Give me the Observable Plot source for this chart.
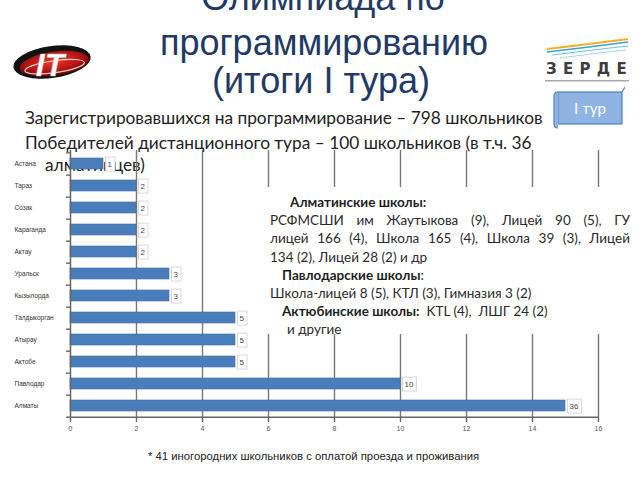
<!DOCTYPE html>
<html><head><meta charset="utf-8">
<script src="https://cdn.jsdelivr.net/npm/d3@7"></script>
<script src="https://cdn.jsdelivr.net/npm/@observablehq/plot@0.6"></script>
<style>
html,body{margin:0;padding:0;background:#fff;}
#page{position:relative;width:640px;height:480px;overflow:hidden;}
#under{position:absolute;left:0;top:0;z-index:0;}
#chart{position:absolute;left:0;top:0;z-index:1;}
#note{position:absolute;left:262px;top:187px;width:373px;height:147px;background:#fff;z-index:2;
  font-family:Lato,"Open Sans",sans-serif;font-size:13.5px;color:#2a2a2a;line-height:18.2px;}
#note div{white-space:nowrap;}
#note .j{width:360px;text-align:justify;text-align-last:justify;white-space:normal;}
#note b{font-weight:700;color:#1e1e1e;}
</style></head>
<body>
<div id="page">
<svg id="under" width="640" height="480">
  <defs>
    <radialGradient id="redgrad" cx="50%" cy="40%" r="60%">
      <stop offset="0" stop-color="#f03a2a"/><stop offset="0.7" stop-color="#b01010"/><stop offset="1" stop-color="#5a0505"/>
    </radialGradient>
  </defs>
  <g transform="rotate(-8 52 62)">
    <ellipse cx="52" cy="62" rx="39" ry="16" fill="#111"/>
    <ellipse cx="54" cy="64" rx="35" ry="12" fill="url(#redgrad)"/>
    <ellipse cx="54" cy="67" rx="30" ry="6" fill="none" stroke="#fff" stroke-width="1.2" opacity="0.8"/>
  </g>
  <text x="50" y="76" text-anchor="middle" font-family="Liberation Sans" font-weight="700" font-style="italic" font-size="32" fill="#fff" stroke="#bbb" stroke-width="0.5">IT</text>
  <path d="M547 49 Q590 44 628 39" stroke="#f0b020" stroke-width="2" fill="none"/>
  <path d="M547 52 Q590 47 628 42" stroke="#3aa0d8" stroke-width="1.5" fill="none"/>
  <path d="M552 55 Q592 50 628 46" stroke="#6cc0e8" stroke-width="1.2" fill="none"/>
  <path d="M560 58 Q596 53 626 50" stroke="#9dd4ef" stroke-width="1" fill="none"/>
  <text x="546" y="74" font-family="DejaVu Sans" font-weight="700" font-size="15" letter-spacing="6.3" fill="#3d3d3d">ЗЕРДЕ</text>
  <rect x="545" y="80" width="84" height="1.5" fill="#a8a8a8"/>
  <rect x="558" y="92" width="64" height="32" fill="#8fb4e3" stroke="#4f81bd" stroke-width="1.2"/>
  <path d="M558 92 q-4 0 -4 4 v28 q0 4 4 4" fill="#8fb4e3" stroke="#4f81bd" stroke-width="1.2"/>
  <path d="M622 92 q4 -6 2 -4" fill="none" stroke="#4f81bd" stroke-width="1.2"/>
  <text x="590" y="114" text-anchor="middle" font-family="Lato" font-size="15" fill="#fff">I тур</text>
  <g font-family="Liberation Sans" font-size="36" fill="#1f3a66" text-anchor="middle">
    <text x="323" y="10">Олимпиада по</text>
    <text x="324" y="55">программированию</text>
    <text x="321" y="93">(итоги I тура)</text>
  </g>
  <g font-family="Lato" font-size="17.3" fill="#222">
    <text x="25" y="124">Зарегистрировавшихся на программирование – 798 школьников</text>
    <text x="25" y="149">Победителей дистанционного тура – 100 школьников (в т.ч. 36</text>
    <text x="45" y="171">алматинцев)</text>
  </g>
  <text x="148" y="460" font-family="Liberation Sans" font-size="11.3" fill="#222">* 41 иногородних школьников с оплатой проезда и проживания</text>
</svg>
<div id="note">
  <div style="padding-left:28px;margin-top:6px"><b>Алматинские школы:</b></div>
  <div class="j" style="padding-left:8px">РСФМСШИ им Жаутыкова (9), Лицей 90 (5), ГУ</div>
  <div class="j" style="padding-left:8px">лицей 166 (4), Школа 165 (4), Школа 39 (3), Лицей</div>
  <div style="padding-left:8px">134 (2), Лицей 28 (2) и др</div>
  <div style="padding-left:20px"><b>Павлодарские школы</b>:</div>
  <div style="padding-left:8px">Школа-лицей 8 (5), КТЛ (3), Гимназия 3 (2)</div>
  <div style="padding-left:20px"><b>Актюбинские школы:</b>&nbsp; KTL (4),&nbsp; ЛШГ 24 (2)</div>
  <div style="padding-left:25px">и другие</div>
</div>
</div>
<script>
const cities = ["Астана","Тараз","Созак","Караганда","Актау","Уральск","Кызылорда","Талдыкорган","Атырау","Актобе","Павлодар","Алматы"];
const barValues = [1,2,2,2,2,3,3,5,5,5,10,15];
const labelValues = [1,2,2,2,2,3,3,5,5,5,10,36];
const xTicks = [0,2,4,6,8,10,12,14,16];

const data = cities.map((c,i)=>({city:c, bar:barValues[i], label:labelValues[i]}));

const W=640,H=480,mL=70,mR=42,mT=150,mB=62;
const plotH=H-mT-mB, plotW=W-mL-mR;
const step=plotH/cities.length;
const axisColor="#666666";

const chart = Plot.plot({
  width:W, height:H, marginLeft:mL, marginRight:mR, marginTop:mT, marginBottom:mB,
  style:{background:"transparent", fontFamily:"Liberation Sans", overflow:"visible"},
  x:{domain:[0,16], ticks:xTicks, label:null, axis:null},
  y:{domain:cities, paddingInner:0.5, paddingOuter:0.25, axis:null},
  marks:[
    Plot.ruleX(xTicks.filter(d=>d>0), {stroke:"#787878", strokeWidth:1.4}),
    Plot.barX(data, {x:"bar", y:"city", fill:"#4a7ebb", stroke:"#3f6fa8", strokeWidth:0.6}),
    Plot.ruleX([0], {stroke:axisColor, strokeWidth:1.5}),
    Plot.ruleY([0], {y:()=>cities[cities.length-1], dy:step/2, stroke:axisColor, strokeWidth:1.5}),
    Plot.tickX(xTicks, {x:d=>d, stroke:axisColor, strokeWidth:1.4, insetTop:plotH, insetBottom:-4}),
    Plot.ruleY(cities, {insetLeft:-4, insetRight:plotW, dy:step/2, stroke:axisColor, strokeWidth:1.4}),
    Plot.ruleY([cities[0]], {insetLeft:-4, insetRight:plotW, dy:-step/2, stroke:axisColor, strokeWidth:1.4}),
    Plot.text(xTicks, {x:d=>d, text:d=>String(d), frameAnchor:"bottom", lineAnchor:"top", dy:8, fontSize:7, fill:"#555"}),
    Plot.text(data, {y:"city", text:"city", frameAnchor:"left", dx:-56, textAnchor:"start", fontSize:6.5, fill:"#333"}),
    Plot.text(data, {x:"bar", y:"city", text:d=>String(d.label), textAnchor:"start", dx:4, fontSize:8, fill:"#444"})
  ]
});
chart.id="chart";
document.getElementById("page").appendChild(chart);

// boxes behind value labels
const groups = chart.querySelectorAll('g[aria-label="text"]');
const g = groups[groups.length-1];
g.querySelectorAll("text").forEach(t=>{
  const b=t.getBBox();
  const r=document.createElementNS("http://www.w3.org/2000/svg","rect");
  r.setAttribute("x",b.x-2); r.setAttribute("y",b.y-2.5);
  r.setAttribute("width",b.width+4.5); r.setAttribute("height",b.height+5);
  r.setAttribute("fill","#fff"); r.setAttribute("stroke","#cfcfcf"); r.setAttribute("stroke-width","0.8");
  if(t.getAttribute("transform")) r.setAttribute("transform",t.getAttribute("transform"));
  g.insertBefore(r,t);
});
</script>
</body></html>
